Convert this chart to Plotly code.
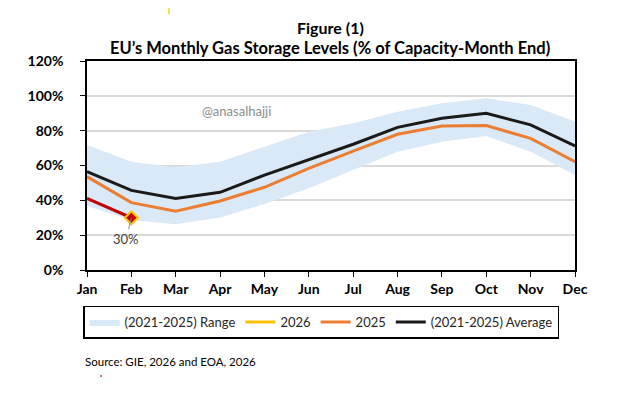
import plotly.graph_objects as go

# month-end storage, % of capacity
months = ["Jan", "Feb", "Mar", "Apr", "May", "Jun", "Jul", "Aug", "Sep", "Oct", "Nov", "Dec"]
range_high = [71.8, 62.2, 59.0, 62.2, 70.8, 79.4, 84.2, 90.9, 95.7, 98.6, 94.7, 85.2]
range_low = [36.7, 28.7, 26.2, 30.2, 37.9, 46.9, 57.4, 67.9, 73.7, 76.9, 67.9, 54.5]
avg_2021_2025 = [56.5, 45.7, 41.1, 44.6, 54.5, 63.5, 72.2, 81.9, 87.1, 90.0, 83.3, 71.2]
y2025 = [53.6, 38.7, 33.7, 39.6, 47.5, 58.4, 68.3, 77.9, 82.7, 82.9, 75.6, 62.2]
y2026 = [41.1, 30.0]
y_ticks = [0, 20, 40, 60, 80, 100, 120]

x = list(range(len(months)))
font = "Lato"

fig = go.Figure()

# range band (lower edge first, then fill up to the upper edge)
fig.add_trace(go.Scatter(x=x, y=range_low, mode="lines", line=dict(width=0),
                         showlegend=False, hoverinfo="skip"))
fig.add_trace(go.Scatter(x=x, y=range_high, mode="lines", line=dict(width=0),
                         fill="tonexty", fillcolor="#DAE9F7", name="(2021-2025) Range"))

# 2026 - red line in plot, yellow in legend
fig.add_trace(go.Scatter(x=x[:len(y2026)], y=y2026, mode="lines",
                         line=dict(color="#C00000", width=3), showlegend=False))
fig.add_trace(go.Scatter(x=x[len(y2026) - 1:len(y2026)], y=y2026[-1:], mode="markers",
                         marker=dict(symbol="diamond", size=10, color="#C00000",
                                     line=dict(color="#FFC000", width=2)),
                         showlegend=False))
fig.add_trace(go.Scatter(x=[None], y=[None], mode="lines",
                         line=dict(color="#FFC000", width=3), name="2026"))

fig.add_trace(go.Scatter(x=x, y=y2025, mode="lines",
                         line=dict(color="#ED7D31", width=3), name="2025"))
fig.add_trace(go.Scatter(x=x, y=avg_2021_2025, mode="lines",
                         line=dict(color="#1A1A1A", width=3), name="(2021-2025) Average"))

# label for latest 2026 point
fig.add_annotation(x=x[len(y2026) - 1], y=y2026[-1], text=f"{y2026[-1]:.0f}%",
                   showarrow=True, arrowhead=0, arrowcolor="#8C8C8C", arrowwidth=1,
                   ax=-5, ay=21, font=dict(family=font, size=13, color="#404040"))

# titles
fig.add_annotation(xref="paper", yref="paper", x=0.498, y=1.158, xanchor="center", yanchor="middle",
                   text="<b>Figure (1)</b>", showarrow=False,
                   font=dict(family=font, size=16, color="#000000"))
fig.add_annotation(xref="paper", yref="paper", x=0.498, y=1.064, xanchor="center", yanchor="middle",
                   text="<b>EU’s Monthly Gas Storage Levels (% of Capacity-Month End)</b>",
                   showarrow=False, font=dict(family=font, size=16.5, color="#000000"))

fig.add_annotation(xref="paper", yref="paper", x=0.307, y=0.761, xanchor="center", yanchor="middle",
                   text="@anasalhajji", showarrow=False,
                   font=dict(family=font, size=13, color="#8C8C8C"))

fig.add_annotation(xref="paper", yref="paper", x=-0.008, y=-0.44, xanchor="left", yanchor="middle",
                   text="Source: GIE, 2026 and EOA, 2026", showarrow=False,
                   font=dict(family=font, size=11.5, color="#000000"))

# small stray marks seen on the original image
fig.add_shape(type="line", xref="paper", yref="paper", x0=0.168, x1=0.168, y0=1.225, y1=1.258,
              line=dict(color="#F5E050", width=2))
fig.add_shape(type="circle", xref="paper", yref="paper", x0=-0.176, x1=-0.172, y0=0.77, y1=0.78,
              line=dict(width=0), fillcolor="#E03030")
fig.add_shape(type="circle", xref="paper", yref="paper", x0=0.027, x1=0.031, y0=-0.512, y1=-0.502,
              line=dict(width=0), fillcolor="#E03030")

# page body adds an 8px offset, so size/margins are trimmed to match
fig.update_layout(
    width=616, height=401,
    margin=dict(l=79, r=49, t=53, b=139),
    plot_bgcolor="white", paper_bgcolor="white",
    legend=dict(orientation="h", x=-0.008, y=-0.17, xanchor="left", yanchor="top",
                bordercolor="#000000", borderwidth=1.5,
                font=dict(family=font, size=13, color="#262626"),
                itemwidth=30, traceorder="normal"),
    showlegend=True,
)

fig.update_xaxes(range=[0, 11], tickvals=x, ticktext=months,
                 showline=True, linecolor="#000000", linewidth=1.5, mirror=True,
                 ticks="outside", ticklen=5, tickcolor="#000000",
                 showgrid=False, zeroline=False,
                 tickfont=dict(family=font, size=14, color="#000000", weight="bold"))
fig.update_yaxes(range=[0, 120], tickvals=y_ticks, ticktext=[f"{v}%" for v in y_ticks],
                 showline=True, linecolor="#000000", linewidth=1.5, mirror=True,
                 ticks="outside", ticklen=5, tickcolor="#000000", ticklabelstandoff=14,
                 showgrid=True, gridcolor="#D9D9D9", gridwidth=1.5, zeroline=False,
                 tickfont=dict(family=font, size=14, color="#000000", weight="bold"))

fig.write_html("out.html")
